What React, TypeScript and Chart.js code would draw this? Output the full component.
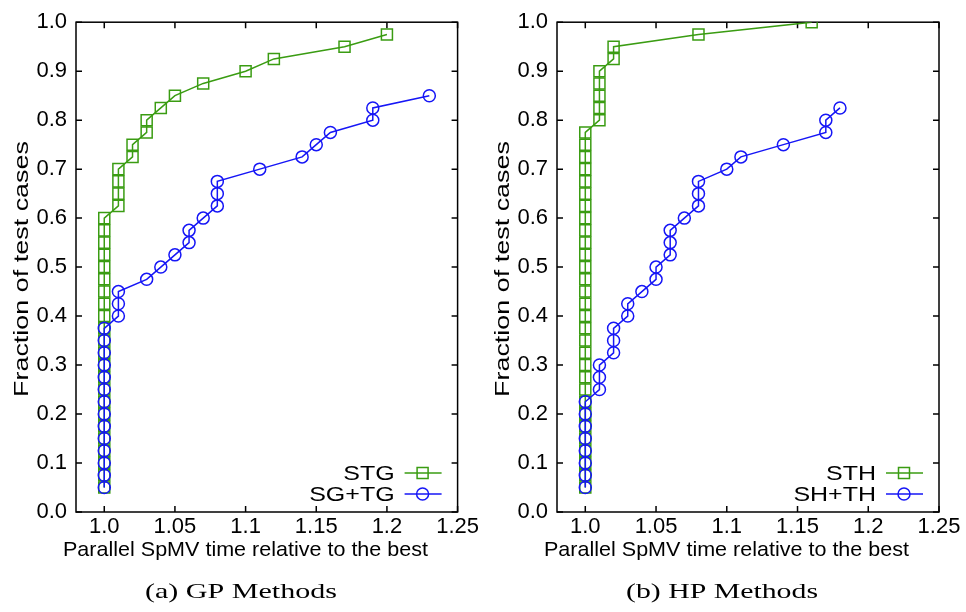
import React, { useEffect, useRef } from 'react';
import { Chart, registerables } from 'chart.js';

Chart.register(...registerables);

// ---------- tick values / labels ----------
const xTicks = [1.0, 1.05, 1.1, 1.15, 1.2, 1.25];
const xTickLabels = ['1.0', '1.05', '1.1', '1.15', '1.2', '1.25'];
const yTicks = [0.0, 0.1, 0.2, 0.3, 0.4, 0.5, 0.6, 0.7, 0.8, 0.9, 1.0];
const yTickLabels = ['0.0', '0.1', '0.2', '0.3', '0.4', '0.5', '0.6', '0.7', '0.8', '0.9', '1.0'];

const xAxisTitle = 'Parallel SpMV time relative to the best';
const yAxisTitle = 'Fraction of test cases';

// ---------- (a) GP Methods ----------
const stgX = [
  1.0, 1.0, 1.0, 1.0, 1.0, 1.0, 1.0, 1.0, 1.0, 1.0, 1.0, 1.0, 1.0, 1.0, 1.0, 1.0, 1.0, 1.0, 1.0, 1.0, 1.0, 1.0, 1.0,
  1.01, 1.01, 1.01, 1.01, 1.02, 1.02, 1.03, 1.03, 1.04, 1.05, 1.07, 1.1, 1.12, 1.17, 1.2,
];
const stgY = [
  0.05, 0.075, 0.1, 0.125, 0.15, 0.175, 0.2, 0.225, 0.25, 0.275, 0.3, 0.325, 0.35, 0.375, 0.4, 0.425, 0.45, 0.475, 0.5, 0.525, 0.55, 0.575, 0.6,
  0.625, 0.65, 0.675, 0.7, 0.725, 0.75, 0.775, 0.8, 0.825, 0.85, 0.875, 0.9, 0.925, 0.95, 0.975,
];
const sgtgX = [
  1.0, 1.0, 1.0, 1.0, 1.0, 1.0, 1.0, 1.0, 1.0, 1.0, 1.0, 1.0, 1.0, 1.0,
  1.01, 1.01, 1.01, 1.03, 1.04, 1.05, 1.06, 1.06, 1.07, 1.08, 1.08, 1.08, 1.11, 1.14, 1.15, 1.16, 1.19, 1.19, 1.23,
];
const sgtgY = [
  0.05, 0.075, 0.1, 0.125, 0.15, 0.175, 0.2, 0.225, 0.25, 0.275, 0.3, 0.325, 0.35, 0.375,
  0.4, 0.425, 0.45, 0.475, 0.5, 0.525, 0.55, 0.575, 0.6, 0.625, 0.65, 0.675, 0.7, 0.725, 0.75, 0.775, 0.8, 0.825, 0.85,
];

// ---------- (b) HP Methods ----------
const sthX = [
  1.0, 1.0, 1.0, 1.0, 1.0, 1.0, 1.0, 1.0, 1.0, 1.0, 1.0, 1.0, 1.0, 1.0, 1.0, 1.0, 1.0, 1.0, 1.0, 1.0, 1.0, 1.0, 1.0, 1.0, 1.0, 1.0, 1.0, 1.0, 1.0, 1.0,
  1.01, 1.01, 1.01, 1.01, 1.01, 1.02, 1.02, 1.08, 1.16,
];
const sthY = [
  0.05, 0.075, 0.1, 0.125, 0.15, 0.175, 0.2, 0.225, 0.25, 0.275, 0.3, 0.325, 0.35, 0.375, 0.4, 0.425, 0.45, 0.475, 0.5, 0.525, 0.55, 0.575, 0.6, 0.625, 0.65, 0.675, 0.7, 0.725, 0.75, 0.775,
  0.8, 0.825, 0.85, 0.875, 0.9, 0.925, 0.95, 0.975, 1.0,
];
const shthX = [
  1.0, 1.0, 1.0, 1.0, 1.0, 1.0, 1.0, 1.0,
  1.01, 1.01, 1.01, 1.02, 1.02, 1.02, 1.03, 1.03, 1.04, 1.05, 1.05, 1.06, 1.06, 1.06, 1.07, 1.08, 1.08, 1.08, 1.1, 1.11, 1.14, 1.17, 1.17, 1.18,
];
const shthY = [
  0.05, 0.075, 0.1, 0.125, 0.15, 0.175, 0.2, 0.225,
  0.25, 0.275, 0.3, 0.325, 0.35, 0.375, 0.4, 0.425, 0.45, 0.475, 0.5, 0.525, 0.55, 0.575, 0.6, 0.625, 0.65, 0.675, 0.7, 0.725, 0.75, 0.775, 0.8, 0.825,
];

const GREEN = '#3a9c12';
const BLUE = '#1616f6';
const SANS = '"Liberation Sans", Arial, Helvetica, sans-serif';
const SERIF = '"Liberation Serif", "Times New Roman", serif';

type Series = { label: string; x: number[]; y: number[]; color: string; marker: 'rect' | 'circle' };
type Panel = { caption: string; left: number; width: number; series: Series[] };

const panels: Panel[] = [
  {
    caption: '(a) GP Methods',
    left: 0,
    width: 481,
    series: [
      { label: 'STG', x: stgX, y: stgY, color: GREEN, marker: 'rect' },
      { label: 'SG+TG', x: sgtgX, y: sgtgY, color: BLUE, marker: 'circle' },
    ],
  },
  {
    caption: '(b) HP Methods',
    left: 481,
    width: 485,
    series: [
      { label: 'STH', x: sthX, y: sthY, color: GREEN, marker: 'rect' },
      { label: 'SH+TH', x: shthX, y: shthY, color: BLUE, marker: 'circle' },
    ],
  },
];

const H = 612;
const AREA_LEFT = 76;
const AREA_RIGHT = 458;
const AREA_TOP = 15;
const AREA_BOTTOM = 512;

function drawStretched(
  ctx: CanvasRenderingContext2D,
  text: string,
  cx: number,
  cy: number,
  font: string,
  targetWidth: number,
  rotate: boolean,
) {
  ctx.save();
  ctx.font = font;
  ctx.fillStyle = '#000';
  ctx.textAlign = 'center';
  ctx.textBaseline = 'middle';
  const w = ctx.measureText(text).width;
  ctx.translate(cx, cy);
  if (rotate) ctx.rotate(-Math.PI / 2);
  ctx.scale(targetWidth / w, 1);
  ctx.fillText(text, 0, 0);
  ctx.restore();
}

function drawMarker(ctx: CanvasRenderingContext2D, kind: string, x: number, y: number, color: string) {
  ctx.save();
  ctx.strokeStyle = color;
  ctx.lineWidth = 1.5;
  ctx.beginPath();
  if (kind === 'rect') {
    ctx.rect(x - 5.5, y - 5.5, 11, 11);
  } else {
    ctx.arc(x, y, 6, 0, Math.PI * 2);
  }
  ctx.stroke();
  ctx.restore();
}

function makePlugin(panel: Panel) {
  return {
    id: 'gnuframe',
    beforeDatasetsDraw(chart: any) {
      const { ctx, chartArea: a, scales } = chart;
      ctx.save();
      ctx.strokeStyle = '#000';
      ctx.lineWidth = 1.5;
      ctx.strokeRect(a.left, a.top, a.right - a.left, a.bottom - a.top);
      ctx.beginPath();
      const tl = 6;
      xTicks.forEach((v) => {
        const px = scales.x.getPixelForValue(v);
        ctx.moveTo(px, a.bottom);
        ctx.lineTo(px, a.bottom - tl);
        ctx.moveTo(px, a.top);
        ctx.lineTo(px, a.top + tl);
      });
      yTicks.forEach((v) => {
        const py = scales.y.getPixelForValue(v);
        ctx.moveTo(a.left, py);
        ctx.lineTo(a.left + tl, py);
        ctx.moveTo(a.right, py);
        ctx.lineTo(a.right - tl, py);
      });
      ctx.stroke();
      ctx.restore();
    },
    afterDraw(chart: any) {
      const { ctx, chartArea: a } = chart;
      // legend (bottom right inside plot)
      panel.series.forEach((s, i) => {
        const ly = a.bottom - 39 + i * 21;
        ctx.save();
        ctx.font = `21px ${SANS}`;
        ctx.fillStyle = '#000';
        ctx.textAlign = 'right';
        ctx.textBaseline = 'middle';
        ctx.translate(a.right - 63, ly + 1);
        ctx.scale(1.19, 1);
        ctx.fillText(s.label, 0, 0);
        ctx.restore();
        ctx.save();
        ctx.strokeStyle = s.color;
        ctx.lineWidth = 1.5;
        ctx.beginPath();
        ctx.moveTo(a.right - 53, ly);
        ctx.lineTo(a.right - 16, ly);
        ctx.stroke();
        ctx.restore();
        drawMarker(ctx, s.marker, a.right - 35, ly, s.color);
      });
      // axis titles
      drawStretched(ctx, yAxisTitle, 22, 269, `21px ${SANS}`, 256, true);
      drawStretched(ctx, xAxisTitle, 245.5, 550, `21px ${SANS}`, 365, false);
      // caption
      drawStretched(ctx, panel.caption, 241, 592, `21px ${SERIF}`, 192, false);
    },
  };
}

function PanelChart({ panel }: { panel: Panel }) {
  const ref = useRef<HTMLCanvasElement | null>(null);
  useEffect(() => {
    if (!ref.current) return;
    const chart = new Chart(ref.current, {
      type: 'scatter',
      data: {
        datasets: panel.series.map((s) => ({
          label: s.label,
          data: s.x.map((x, j) => ({ x, y: s.y[j] })),
          showLine: true,
          borderColor: s.color,
          backgroundColor: 'transparent',
          borderWidth: 1.5,
          pointStyle: s.marker,
          pointRadius: s.marker === 'rect' ? 7.8 : 6,
          pointBorderWidth: 1.5,
          pointBorderColor: s.color,
          pointBackgroundColor: 'transparent',
          order: s.marker === 'rect' ? 1 : 0,
        })),
      },
      options: {
        animation: false,
        responsive: false,
        events: [],
        layout: { padding: { top: AREA_TOP, right: panel.width - AREA_RIGHT, left: 0, bottom: 0 } },
        plugins: { legend: { display: false }, tooltip: { enabled: false } },
        scales: {
          x: {
            type: 'linear',
            min: 0.98,
            max: 1.25,
            grid: { display: false, drawTicks: false },
            border: { display: false },
            ticks: {
              color: '#000',
              font: { family: SANS, size: 22 },
              padding: 2,
              maxRotation: 0,
              autoSkip: false,
              callback: (_v: any, i: number) => xTickLabels[i],
            },
            afterBuildTicks: (s: any) => {
              s.ticks = xTicks.map((v) => ({ value: v }));
            },
            afterFit: (s: any) => {
              s.height = H - AREA_BOTTOM;
            },
          },
          y: {
            type: 'linear',
            min: 0,
            max: 1,
            grid: { display: false, drawTicks: false },
            border: { display: false },
            ticks: {
              color: '#000',
              font: { family: SANS, size: 22 },
              padding: 9,
              autoSkip: false,
              callback: (_v: any, i: number) => yTickLabels[i],
            },
            afterBuildTicks: (s: any) => {
              s.ticks = yTicks.map((v) => ({ value: v }));
            },
            afterFit: (s: any) => {
              s.width = AREA_LEFT;
            },
          },
        },
      } as any,
      plugins: [makePlugin(panel)],
    });
    return () => chart.destroy();
  }, [panel]);
  return (
    <canvas
      ref={ref}
      width={panel.width}
      height={H}
      style={{ position: 'absolute', left: panel.left, top: 0, width: panel.width, height: H }}
    />
  );
}

export default function App() {
  return (
    <div style={{ position: 'absolute', left: 0, top: 0, width: 966, height: H, background: '#fff', overflow: 'hidden' }}>
      {panels.map((p) => (
        <PanelChart key={p.caption} panel={p} />
      ))}
    </div>
  );
}
